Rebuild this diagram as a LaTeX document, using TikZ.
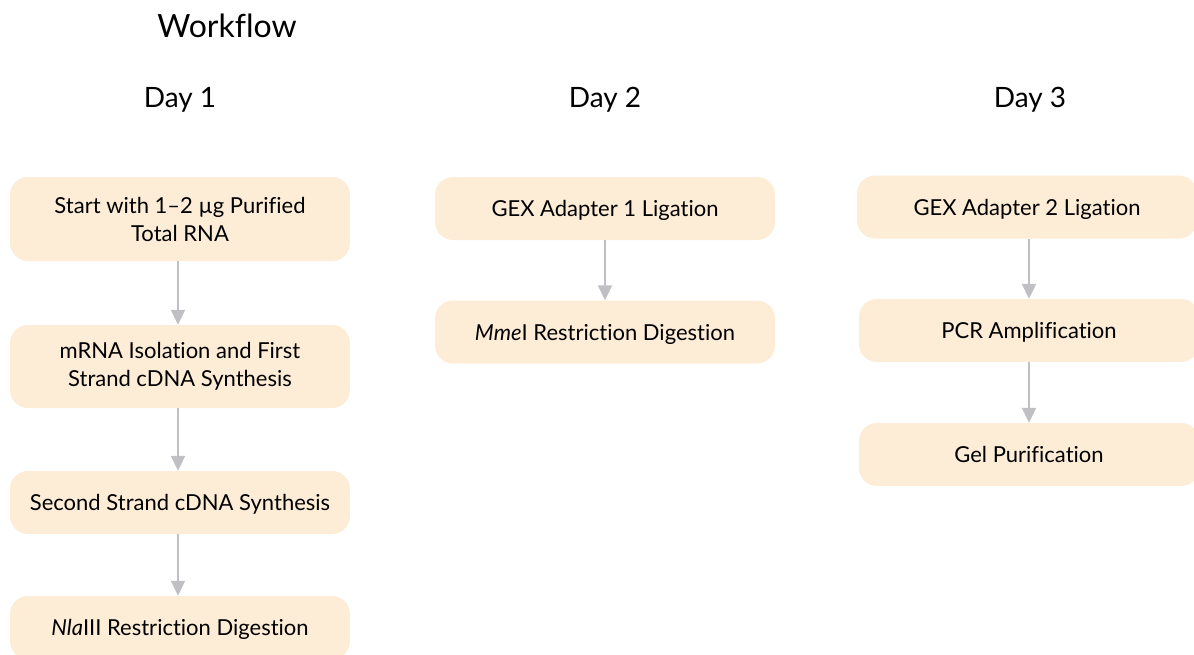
\documentclass[tikz,border=0pt]{standalone}
\usepackage{fontspec}
\setmainfont{Lato}[Ligatures={NoCommon}]
\usetikzlibrary{arrows.meta,positioning}
\definecolor{boxfill}{RGB}{253,236,214}
\definecolor{arrowgray}{RGB}{192,192,196}
\tikzset{
  stepbox/.style={rectangle, rounded corners=18pt, fill=boxfill, draw=none,
    minimum width=340pt, align=center, font=\fontsize{22}{28}\selectfont, inner sep=0pt},
  onebox/.style={stepbox, minimum height=63pt, text depth=0pt},
  flow/.style={draw=arrowgray, line width=2pt, -{Triangle[width=14pt,length=15pt]}},
  dayhead/.style={font=\fontsize{28}{32}\selectfont},
}
\begin{document}
\begin{tikzpicture}[x=1pt,y=-1pt]
\useasboundingbox (0,0) rectangle (1194,654);
\clip (0,0) rectangle (1194,654);
\node[font=\fontsize{32}{36}\selectfont] (title) at (227,26) {Workflow};
\node[dayhead] (day1) at (180,100) {Day 1};
\node[dayhead] (day2) at (605,100) {Day 2};
\node[dayhead] (day3) at (1030,100) {Day 3};
% Day 1
\node[stepbox, minimum height=84pt] (a1) at (180,219) {Start with 1–2 µg Purified\\Total RNA};
\node[stepbox, minimum height=83pt] (a2) at (180,366.5) {mRNA Isolation and First\\Strand cDNA Synthesis};
\node[onebox] (a3) at (180,502.5) {Second Strand cDNA Synthesis};
\node[onebox] (a4) at (180,627.5) {\textit{Nla}III Restriction Digestion};
% Day 2
\node[onebox] (b1) at (605,208.5) {GEX Adapter 1 Ligation};
\node[onebox] (b2) at (605,332) {\textit{Mme}I Restriction Digestion};
% Day 3
\node[onebox] (c1) at (1027,207) {GEX Adapter 2 Ligation};
\node[onebox] (c2) at (1029,330.5) {PCR Amplification};
\node[onebox] (c3) at (1029,454.5) {Gel Purification};
% arrows
\draw[flow] ([xshift=-2pt]a1.south) -- ([xshift=-2pt]a2.north);
\draw[flow] ([xshift=-2pt]a2.south) -- ([xshift=-2pt]a3.north);
\draw[flow] ([xshift=-2pt]a3.south) -- ([xshift=-2pt]a4.north);
\draw[flow] (b1.south) -- (b2.north);
\draw[flow] ([xshift=2pt]c1.south) -- (c2.north);
\draw[flow] (c2.south) -- (c3.north);
\end{tikzpicture}
\end{document}
